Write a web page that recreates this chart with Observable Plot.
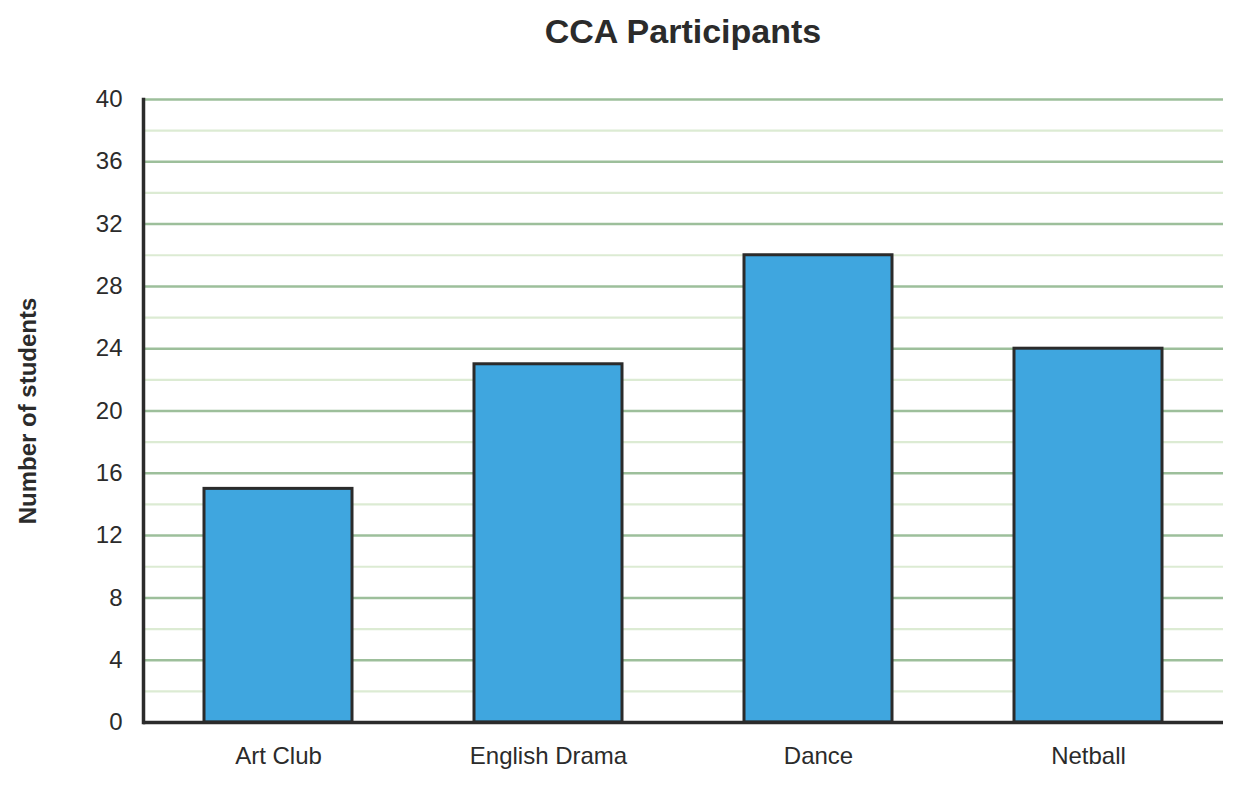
<!DOCTYPE html>
<html>
<head>
<meta charset="utf-8">
<script src="https://cdn.jsdelivr.net/npm/d3@7"></script>
<script src="https://cdn.jsdelivr.net/npm/@observablehq/plot@0.6"></script>
<style>
  body { margin: 0; background: #fff; font-family: "Liberation Sans", Arial, sans-serif; }
  #title { height: 62px; width: 1241px; position: relative; }
  #title span { position: absolute; left: 683px; top: 12px; transform: translateX(-50%);
    font-size: 34px; font-weight: bold; color: #2b2b2b; white-space: nowrap; }
</style>
</head>
<body>
<div id="title"><span>CCA Participants</span></div>
<div id="chart"></div>
<script>
const categories = ["Art Club", "English Drama", "Dance", "Netball"];
const students = [15, 23, 30, 24];
const majorTicks = [0, 4, 8, 12, 16, 20, 24, 28, 32, 36, 40];
const minorTicks = [2, 6, 10, 14, 18, 22, 26, 30, 34, 38];
const yLabel = "Number of students";

const data = categories.map((c, i) => ({category: c, value: students[i]}));

const chart = Plot.plot({
  width: 1241,
  height: 724,
  marginTop: 37,
  marginBottom: 64,
  marginLeft: 143,
  marginRight: 18,
  style: {fontFamily: "'Liberation Sans', Arial, sans-serif", fontSize: "24px", color: "#2b2b2b", background: "#fff"},
  x: {domain: categories, paddingInner: 0.452, paddingOuter: 0.226, align: 0.5, label: null},
  y: {domain: [0, 40], label: null},
  marks: [
    Plot.ruleY(minorTicks, {stroke: "#dcebd3", strokeWidth: 2.2}),
    Plot.ruleY(majorTicks.filter(d => d > 0), {stroke: "#9dbf9b", strokeWidth: 2.5}),
    Plot.barY(data, {x: "category", y: "value", fill: "#3fa6df", stroke: "#2b2b2b", strokeWidth: 3}),
    Plot.axisY(majorTicks, {tickSize: 0, tickPadding: 21, fontSize: 24, fill: "#2b2b2b", label: null}),
    Plot.axisX({tickSize: 0, tickPadding: 24, fontSize: 24, fill: "#2b2b2b", label: null}),
    Plot.frame({anchor: "left", stroke: "#2b2b2b", strokeWidth: 3.5}),
    Plot.ruleY([0], {stroke: "#2b2b2b", strokeWidth: 3.5}),
    Plot.text([yLabel], {frameAnchor: "left", dx: -115, rotate: -90, textAnchor: "middle", fontSize: 24, fontWeight: "bold", fill: "#2b2b2b"})
  ]
});
document.getElementById("chart").appendChild(chart);
</script>
</body>
</html>
